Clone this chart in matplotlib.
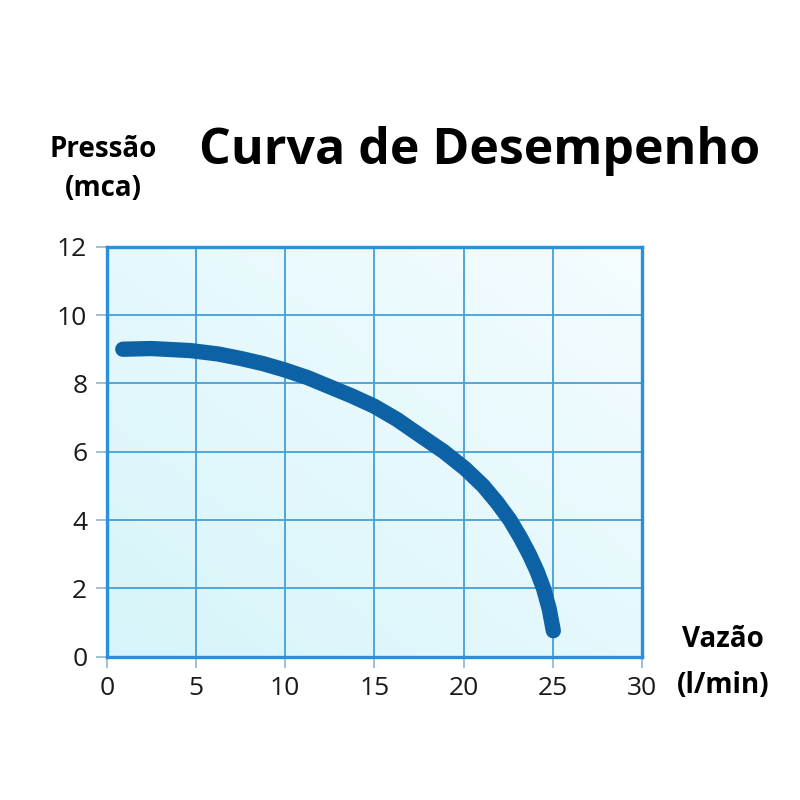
import matplotlib
matplotlib.use("Agg")
import matplotlib.pyplot as plt
import numpy as np

# curve (vazão l/min, pressão mca)
vazao = [0.9, 2.5, 4.7, 6.25, 7.5, 8.75, 10, 11.25, 12.5, 13.75, 15, 16.25, 17.5,
         18.9, 20.1, 21.1, 21.9, 22.6, 23.17, 23.68, 24.12, 24.48, 24.8, 25.03]
pressao = [9.0, 9.02, 8.96, 8.86, 8.73, 8.58, 8.39, 8.17, 7.90, 7.63, 7.33, 6.95, 6.5,
           6.0, 5.5, 5.0, 4.5, 4.0, 3.5, 3.0, 2.5, 2.0, 1.4, 0.76]

x_ticks = [0, 5, 10, 15, 20, 25, 30]
y_ticks = [0, 2, 4, 6, 8, 10, 12]

plt.rcParams['font.family'] = ['Open Sans', 'DejaVu Sans']

fig = plt.figure(figsize=(8, 8), dpi=100)
ax = fig.add_axes([0.1334, 0.1791, 0.6691, 0.5125])

# soft diagonal gradient background
gx, gy = np.meshgrid(np.linspace(0, 1, 200), np.linspace(0, 1, 200))
t = np.clip((gx + (1 - gy)) / 2, 0, 1)
c0 = np.array([0.84, 0.96, 0.98])
c1 = np.array([0.96, 0.99, 1.0])
img = c0 + (c1 - c0) * t[..., None]
ax.imshow(img, extent=[0, 30, 0, 12], origin='upper', aspect='auto', zorder=0)

ax.set_xlim(0, 30)
ax.set_ylim(0, 12)
ax.set_xticks(x_ticks)
ax.set_yticks(y_ticks)
ax.grid(True, color='#45a0d6', linewidth=1.3, zorder=1)
ax.set_axisbelow(False)

ax.plot(vazao, pressao, color='#0d62a6', linewidth=11, solid_capstyle='round',
        solid_joinstyle='round', zorder=3)

for s in ax.spines.values():
    s.set_color('#2a8fdc')
    s.set_linewidth(2.4)
    s.set_zorder(4)

ax.tick_params(axis='both', length=8, width=1.2, color='#8fb5d0', labelsize=19,
               labelcolor='#1a1a1a', pad=6)

fig.text(0.6, 0.811, 'Curva de Desempenho', fontsize=36, fontweight='bold',
         ha='center', va='center', color='black')
fig.text(0.129, 0.813, 'Pressão', fontsize=20, fontweight='bold', ha='center', va='center')
fig.text(0.129, 0.764, '(mca)', fontsize=20, fontweight='bold', ha='center', va='center')
fig.text(0.904, 0.201, 'Vazão', fontsize=20, fontweight='bold', ha='center', va='center')
fig.text(0.904, 0.143, '(l/min)', fontsize=20, fontweight='bold', ha='center', va='center')

fig.savefig('out.png', dpi=100, facecolor='white')
